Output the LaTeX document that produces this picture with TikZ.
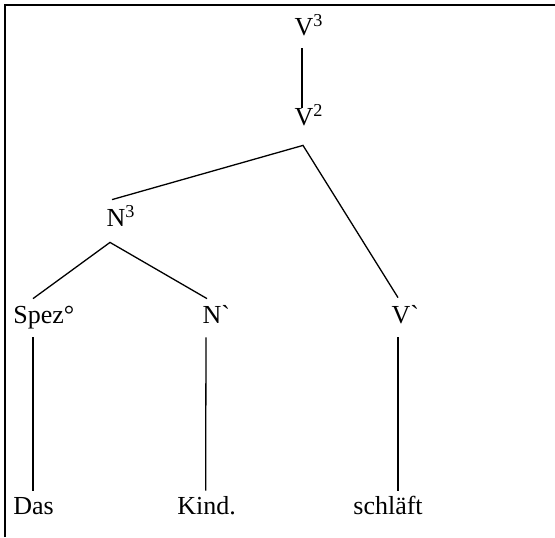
\documentclass[tikz,border=0pt]{standalone}
\usepackage{fontspec}
\setmainfont{Liberation Serif}[Ligatures=TeXOff]
\usepackage{tikz}

\begin{document}
\begin{tikzpicture}[x=0.5pt, y=-0.5pt]
\tikzset{cat/.style={inner sep=0pt, text height=8.5pt, text depth=0pt, font=\fontsize{13}{15}\selectfont}}
\tikzset{branch/.style={line width=0.65pt}}

\useasboundingbox (0,0) rectangle (555,537);
\draw[line width=1.1pt] (5,537) -- (5,5) -- (555,5);

% categories (superscripts hang out of the node box)
\node[cat, anchor=base] (V3) at (304,35) {V\rlap{\textsuperscript{3}}};
\node[cat, anchor=base] (V2) at (304,125) {V\rlap{\textsuperscript{2}}};
\node[cat, anchor=base] (N3) at (116,226) {N\rlap{\textsuperscript{3}}};
\node[cat, anchor=base west] (spez) at (13,323) {Spez°};
\node[cat, anchor=base] (Nbar) at (212,323) {N\rlap{`}};
\node[cat, anchor=base] (Vbar) at (401,323) {V\rlap{`}};

% words
\node[cat, anchor=base west] (das) at (13,514) {Das};
\node[cat, anchor=base west] (kind) at (177,514) {Kind.};
\node[cat, anchor=base west] (schlaeft) at (353,514) {schläft};

\draw[branch] ([xshift=-1pt,yshift=-6.5pt]V3.south) -- ([xshift=-1pt]V2.north);
\draw[branch] ([xshift=-2pt,yshift=4.5pt]N3.north) -- ([xshift=-0.5pt,yshift=-10pt]V2.south) -- ([xshift=-1.5pt,yshift=4pt]Vbar.north);
\draw[branch] ([xshift=10pt,yshift=3.5pt]spez.north west) -- ([xshift=-3pt,yshift=-8pt]N3.south) -- ([xshift=-2.5pt,yshift=3.5pt]Nbar.north);
\draw[branch] ([xshift=10pt,yshift=-7pt]spez.south west) -- ([xshift=10pt,yshift=3pt]das.north west);
\draw[branch] ([xshift=-3pt,yshift=-7pt]Nbar.south) -- ([xshift=-0.5pt,yshift=3pt]kind.north);
\draw[branch] ([xshift=-1.5pt,yshift=-7pt]Vbar.south) -- ([xshift=22.5pt,yshift=3pt]schlaeft.north west);
\end{tikzpicture}
\end{document}
